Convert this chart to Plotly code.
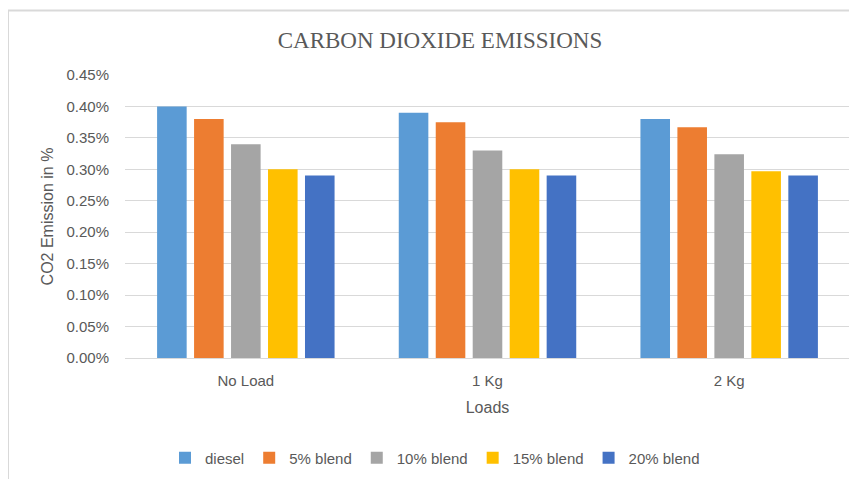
import plotly.graph_objects as go

categories = ["No Load", "1 Kg", "2 Kg"]
series_names = ["diesel", "5% blend", "10% blend", "15% blend", "20% blend"]
diesel = [0.400, 0.390, 0.380]
blend5 = [0.380, 0.375, 0.367]
blend10 = [0.340, 0.330, 0.324]
blend15 = [0.300, 0.300, 0.297]
blend20 = [0.290, 0.290, 0.290]
y_ticks = [0.00, 0.05, 0.10, 0.15, 0.20, 0.25, 0.30, 0.35, 0.40, 0.45]
y_tick_labels = ["0.00%", "0.05%", "0.10%", "0.15%", "0.20%", "0.25%",
                 "0.30%", "0.35%", "0.40%", "0.45%"]

colors = ["#5B9BD5", "#ED7D31", "#A5A5A5", "#FFC000", "#4472C4"]
values = [diesel, blend5, blend10, blend15, blend20]

fig = go.Figure()
for name, vals, c in zip(series_names, values, colors):
    fig.add_trace(go.Bar(x=categories, y=vals, name=name, marker_color=c,
                         marker_line_width=0))

# page body has an 8px margin, so the figure is drawn 8px in from the corner
OFF = 8
W, H = 857 - OFF, 479 - OFF
ml, mr, mt, mb = 125 - OFF, 7, 75 - OFF, 121
pw, ph = W - ml - mr, H - mt - mb

def px(x):
    return (x - OFF - ml) / pw

def py(y):
    return (H - mb - (y - OFF)) / ph

font_family = "Liberation Sans"
grey = "#595959"

fig.update_layout(
    width=W, height=H,
    margin=dict(l=ml, r=mr, t=mt, b=mb, autoexpand=False),
    paper_bgcolor="white", plot_bgcolor="white",
    barmode="group", bargap=0.235, bargroupgap=0.2,
    title=dict(text="CARBON DIOXIDE EMISSIONS", x=(440 - OFF) / W, xanchor="center",
               y=1 - (40 - OFF) / H, yanchor="middle",
               font=dict(family="Liberation Serif", size=23, color=grey)),
    font=dict(family=font_family, size=15, color=grey),
    showlegend=True,
    legend=dict(orientation="h", x=0.5 * (px(184) + px(686)), xanchor="center",
                y=py(458), yanchor="middle", font=dict(size=15, color=grey),
                itemwidth=30, traceorder="normal"),
    xaxis=dict(showgrid=False, showline=True, linecolor="#d9d9d9", linewidth=1,
               ticks="", tickfont=dict(size=15, color=grey), ticklabelstandoff=9,
               automargin=False,
               title=dict(text="Loads", font=dict(size=16, color=grey), standoff=13)),
    yaxis=dict(range=[0, 0.45], tickvals=y_ticks, ticktext=y_tick_labels,
               showgrid=True, gridcolor="#d9d9d9", gridwidth=1, zeroline=False,
               showline=False, ticks="", ticklabelstandoff=15, automargin=False,
               tickfont=dict(size=15, color=grey),
               title=dict(text="CO2 Emission in %", font=dict(size=16, color=grey), standoff=8)),
    shapes=[
        dict(type="line", xref="paper", yref="paper", x0=px(8), x1=px(857 + 5),
             y0=py(10.5), y1=py(10.5), line=dict(color="#d9d9d9", width=2)),
        dict(type="line", xref="paper", yref="paper", x0=px(8), x1=px(8),
             y0=py(10.5), y1=py(479 + 5), line=dict(color="#d9d9d9", width=2)),
    ],
)

fig.write_html("out.html")
